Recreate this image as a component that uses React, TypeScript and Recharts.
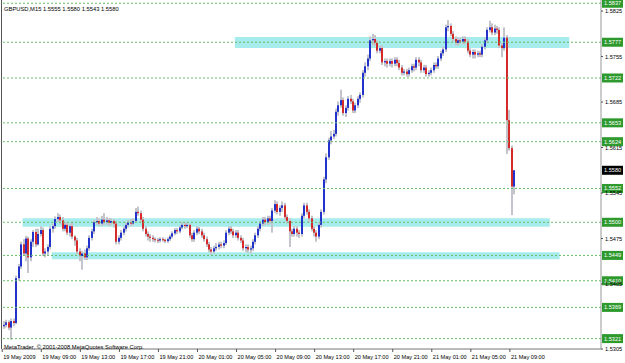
import { ComposedChart, Bar, XAxis, YAxis, ReferenceLine, ReferenceArea } from "recharts";

// prices are in points (1/10000)
const P = 10000;

const opens = [
  15340, 15342, 15346, 15338, 15348, 15345, 15414, 15432, 15466, 15452,
  15475, 15446, 15470, 15485, 15466, 15482, 15488, 15452, 15455, 15462,
  15490, 15494, 15505, 15508, 15503, 15490, 15496, 15484, 15494, 15478,
  15472, 15455, 15448, 15452, 15446, 15460, 15476, 15486, 15500, 15502,
  15498, 15504, 15500, 15503, 15499, 15502, 15498, 15470, 15476, 15484,
  15490, 15496, 15500, 15498, 15502, 15516, 15514, 15504, 15490, 15482,
  15478, 15476, 15474, 15473, 15472, 15474, 15473, 15471, 15474, 15478,
  15483, 15488, 15486, 15492, 15496, 15494, 15496, 15480, 15474, 15484,
  15490, 15486, 15480, 15474, 15466, 15458, 15455, 15460, 15462, 15466,
  15464, 15468, 15484, 15490, 15486, 15480, 15484, 15476, 15472, 15460,
  15462, 15458, 15460, 15470, 15480, 15490, 15498, 15504, 15500, 15506,
  15502, 15518, 15528, 15516, 15522, 15526, 15508, 15502, 15486, 15482,
  15490, 15484, 15482, 15510, 15526, 15516, 15506, 15490, 15484, 15478,
  15496, 15516, 15566, 15600, 15626, 15632, 15636, 15670, 15680, 15688,
  15668, 15676, 15690, 15686, 15672, 15680, 15690, 15696, 15730, 15740,
  15752, 15780, 15782, 15776, 15764, 15768, 15746, 15748, 15744, 15748,
  15744, 15750, 15745, 15738, 15730, 15732, 15728, 15734, 15740, 15738,
  15750, 15746, 15734, 15738, 15728, 15730, 15734, 15742, 15740, 15752,
  15760, 15766, 15800, 15802, 15790, 15782, 15776, 15780, 15778, 15782,
  15778, 15764, 15758, 15762, 15758, 15760, 15758, 15770, 15780, 15796,
  15800, 15792, 15798, 15796, 15772, 15768, 15784, 15657, 15614, 15555,
];

const highs = [
  15348, 15350, 15349, 15352, 15352, 15418, 15436, 15470, 15474, 15479,
  15478, 15474, 15488, 15490, 15490, 15494, 15492, 15460, 15466, 15494,
  15498, 15509, 15514, 15512, 15508, 15500, 15500, 15498, 15500, 15480,
  15476, 15460, 15456, 15458, 15464, 15480, 15490, 15504, 15508, 15506,
  15510, 15514, 15508, 15506, 15506, 15505, 15502, 15480, 15488, 15494,
  15500, 15504, 15505, 15506, 15522, 15524, 15518, 15508, 15494, 15486,
  15482, 15480, 15477, 15476, 15477, 15477, 15475, 15477, 15481, 15486,
  15491, 15491, 15495, 15500, 15499, 15500, 15498, 15484, 15488, 15494,
  15493, 15490, 15484, 15478, 15470, 15462, 15464, 15468, 15470, 15470,
  15472, 15488, 15494, 15494, 15490, 15488, 15488, 15480, 15476, 15466,
  15466, 15464, 15474, 15484, 15494, 15502, 15508, 15508, 15510, 15510,
  15522, 15534, 15532, 15526, 15532, 15530, 15512, 15506, 15490, 15494,
  15494, 15488, 15514, 15530, 15530, 15520, 15510, 15494, 15488, 15500,
  15520, 15570, 15606, 15630, 15640, 15642, 15675, 15686, 15704, 15692,
  15680, 15694, 15696, 15690, 15684, 15694, 15700, 15734, 15746, 15758,
  15786, 15790, 15788, 15780, 15772, 15772, 15752, 15752, 15752, 15752,
  15754, 15754, 15750, 15742, 15736, 15736, 15738, 15744, 15744, 15754,
  15754, 15750, 15742, 15742, 15734, 15738, 15746, 15746, 15756, 15764,
  15770, 15804, 15811, 15806, 15794, 15786, 15784, 15784, 15786, 15786,
  15782, 15768, 15766, 15766, 15764, 15764, 15774, 15784, 15800, 15810,
  15806, 15804, 15802, 15800, 15776, 15800, 15788, 15673, 15618, 15580,
];

const lows = [
  15336, 15338, 15334, 15319, 15340, 15343, 15410, 15428, 15448, 15440,
  15422, 15440, 15462, 15462, 15464, 15478, 15448, 15446, 15450, 15458,
  15484, 15490, 15500, 15497, 15486, 15486, 15480, 15478, 15474, 15464,
  15450, 15440, 15427, 15442, 15442, 15456, 15472, 15482, 15496, 15494,
  15494, 15496, 15496, 15494, 15495, 15492, 15466, 15466, 15472, 15480,
  15486, 15492, 15494, 15495, 15500, 15510, 15500, 15486, 15478, 15472,
  15470, 15470, 15469, 15468, 15469, 15470, 15468, 15468, 15471, 15475,
  15480, 15482, 15483, 15489, 15490, 15491, 15476, 15470, 15470, 15480,
  15482, 15476, 15470, 15462, 15454, 15450, 15452, 15456, 15458, 15460,
  15460, 15465, 15480, 15482, 15476, 15476, 15472, 15468, 15456, 15454,
  15453, 15452, 15456, 15466, 15476, 15486, 15494, 15496, 15496, 15498,
  15484, 15514, 15512, 15510, 15516, 15504, 15498, 15462, 15478, 15478,
  15478, 15476, 15478, 15506, 15512, 15500, 15486, 15478, 15470, 15474,
  15492, 15512, 15560, 15596, 15620, 15628, 15632, 15664, 15676, 15664,
  15662, 15672, 15682, 15668, 15668, 15676, 15684, 15692, 15724, 15734,
  15748, 15772, 15772, 15760, 15760, 15742, 15740, 15738, 15740, 15738,
  15740, 15740, 15734, 15726, 15726, 15724, 15724, 15730, 15732, 15734,
  15740, 15730, 15730, 15724, 15724, 15726, 15730, 15736, 15736, 15748,
  15756, 15762, 15794, 15786, 15778, 15772, 15772, 15774, 15774, 15774,
  15760, 15754, 15752, 15752, 15754, 15754, 15754, 15766, 15776, 15792,
  15788, 15788, 15790, 15768, 15754, 15764, 15605, 15610, 15511, 15543,
];

const closes = [
  15342, 15346, 15338, 15348, 15345, 15414, 15432, 15466, 15452, 15475,
  15446, 15470, 15485, 15466, 15482, 15488, 15452, 15455, 15462, 15490,
  15494, 15505, 15508, 15503, 15490, 15496, 15484, 15494, 15478, 15472,
  15455, 15448, 15452, 15446, 15460, 15476, 15486, 15500, 15502, 15498,
  15504, 15500, 15503, 15499, 15502, 15498, 15470, 15476, 15484, 15490,
  15496, 15500, 15498, 15502, 15516, 15514, 15504, 15490, 15482, 15478,
  15476, 15474, 15473, 15472, 15474, 15473, 15471, 15474, 15478, 15483,
  15488, 15486, 15492, 15496, 15494, 15496, 15480, 15474, 15484, 15490,
  15486, 15480, 15474, 15466, 15458, 15455, 15460, 15462, 15466, 15464,
  15468, 15484, 15490, 15486, 15480, 15484, 15476, 15472, 15460, 15462,
  15458, 15460, 15470, 15480, 15490, 15498, 15504, 15500, 15506, 15502,
  15518, 15528, 15516, 15522, 15526, 15508, 15502, 15486, 15482, 15490,
  15484, 15482, 15510, 15526, 15516, 15506, 15490, 15484, 15478, 15496,
  15516, 15566, 15600, 15626, 15632, 15636, 15670, 15680, 15688, 15668,
  15676, 15690, 15686, 15672, 15680, 15690, 15696, 15730, 15740, 15752,
  15780, 15782, 15776, 15764, 15768, 15746, 15748, 15744, 15748, 15744,
  15750, 15745, 15738, 15730, 15732, 15728, 15734, 15740, 15738, 15750,
  15746, 15734, 15738, 15728, 15730, 15734, 15742, 15740, 15752, 15760,
  15766, 15800, 15802, 15790, 15782, 15776, 15780, 15778, 15782, 15778,
  15764, 15758, 15762, 15758, 15760, 15758, 15770, 15780, 15796, 15800,
  15792, 15798, 15796, 15772, 15768, 15784, 15657, 15614, 15555, 15580,
];

// one label every 16 bars (4 hours of M15)
const timeLabels = [
  "19 May 2009", "19 May 09:00", "19 May 13:00", "19 May 17:00", "19 May 21:00",
  "20 May 01:00", "20 May 05:00", "20 May 09:00", "20 May 13:00", "20 May 17:00",
  "20 May 21:00", "21 May 01:00", "21 May 05:00", "21 May 09:00",
];

const priceTicks = [15825, 15790, 15755, 15685, 15650, 15615, 15545, 15510, 15475, 15440, 15405, 15335, 15305];
const levelLines = [15837, 15777, 15722, 15653, 15624, 15552, 15500, 15449, 15410, 15369, 15321];
const bidPrice = 15580;

const zoneFrom = [95, 8, 20];
const zoneTo = [231, 223, 227];
const zoneLow = [15768, 15493, 15443];
const zoneHigh = [15785, 15506, 15454];

const SLOTS = 245; // bars + empty chart shift on the right

const data = Array.from({ length: SLOTS }, (_, i) =>
  i < closes.length
    ? { i, o: opens[i], h: highs[i], l: lows[i], c: closes[i], range: [lows[i], highs[i]] }
    : { i }
);

const fmt = (v: number) => (v / P).toFixed(4);
const FONT = "Liberation Sans, Arial, sans-serif";

const Candle = (props: any) => {
  const { x, y, width, height, payload } = props;
  if (!payload || payload.c == null) return <g />;
  const { o, h, l, c } = payload;
  const top = height >= 0 ? y : y + height;
  const hh = Math.abs(height);
  const span = h - l || 1;
  const toY = (v: number) => top + ((h - v) / span) * hh;
  const cx = Math.round(x + width / 2);
  const bTop = toY(Math.max(o, c));
  const bBot = toY(Math.min(o, c));
  const up = c >= o;
  return (
    <g>
      <rect x={cx - 1} y={top} width={2} height={Math.max(hh, 1)} fill="#c4c4cc" />
      <rect
        x={cx - 1}
        y={bTop}
        width={2}
        height={Math.max(bBot - bTop, 1)}
        fill={up ? "#2233cc" : "#d42a2a"}
      />
    </g>
  );
};

const TimeTick = (props: any) => {
  const { x, y, payload } = props;
  const i = payload.value;
  if (i % 16 !== 0 || i >= closes.length) return <g />;
  return (
    <g>
      <line x1={x - 2} y1={y} x2={x - 2} y2={y + 3} stroke="#555" />
      <text x={x - 1} y={y + 10} fontSize={5.6} fontFamily={FONT} fill="#000">
        {timeLabels[i / 16]}
      </text>
    </g>
  );
};

const PriceTick = (props: any) => {
  const { x, y, payload } = props;
  return (
    <g>
      <line x1={x} y1={y} x2={x + 2} y2={y} stroke="#555" />
      <text x={x + 4} y={y + 2} fontSize={5.6} fontFamily={FONT} fill="#000">
        {fmt(payload.value)}
      </text>
    </g>
  );
};

const PriceTag = (props: any) => {
  const { viewBox, price, bg } = props;
  if (!viewBox) return <g />;
  const x = viewBox.x + viewBox.width;
  const y = viewBox.y;
  return (
    <g>
      <rect x={x + 1} y={y - 4.5} width={21} height={9} fill={bg} />
      <text x={x + 3} y={y + 2} fontSize={5.6} fontFamily={FONT} fill="#fff">
        {fmt(price)}
      </text>
    </g>
  );
};

export default function App() {
  return (
    <div style={{ position: "absolute", left: 0, top: 0, width: 625, height: 363, background: "#fff" }}>
      <ComposedChart
        width={625}
        height={363}
        data={data}
        margin={{ top: 0, right: 0, bottom: 0, left: 3 }}
        barCategoryGap={0}
      >
        <XAxis
          dataKey="i"
          type="category"
          interval={0}
          height={14}
          tickSize={0}
          tickMargin={0}
          tickLine={false}
          axisLine={{ stroke: "#777" }}
          tick={<TimeTick />}
        />
        <YAxis
          orientation="right"
          type="number"
          domain={[15305, 15842]}
          allowDataOverflow
          ticks={priceTicks}
          width={24}
          tickSize={0}
          tickMargin={0}
          tickLine={false}
          axisLine={{ stroke: "#999" }}
          tick={<PriceTick />}
        />
        {zoneFrom.map((from, k) => (
          <ReferenceArea
            key={"z" + k}
            x1={from}
            x2={zoneTo[k]}
            y1={zoneLow[k]}
            y2={zoneHigh[k]}
            fill="#a6ecec"
            fillOpacity={1}
            stroke="none"
          />
        ))}
        {levelLines.map((v) => (
          <ReferenceLine
            key={"l" + v}
            y={v}
            stroke="#66bb66"
            strokeDasharray="2 2"
            label={<PriceTag price={v} bg="#2e9a2e" />}
          />
        ))}
        <ReferenceLine
          y={bidPrice}
          stroke="none"
          strokeOpacity={0}
          label={<PriceTag price={bidPrice} bg="#000" />}
        />
        <Bar dataKey="range" barSize={2} shape={<Candle />} isAnimationActive={false} />
      </ComposedChart>
      <svg
        width={625}
        height={363}
        style={{ position: "absolute", left: 0, top: 0, pointerEvents: "none" }}
      >
        <line x1={1.5} y1={0} x2={1.5} y2={349} stroke="#555" />
        <text x={4} y={11} fontSize={5.8} fontFamily={FONT} fill="#000">
          GBPUSD,M15  1.5555 1.5580 1.5543 1.5580
        </text>
        <text x={4} y={349} fontSize={5.8} fontFamily={FONT} fill="#000">
          MetaTrader, © 2001-2008 MetaQuotes Software Corp.
        </text>
      </svg>
    </div>
  );
}
